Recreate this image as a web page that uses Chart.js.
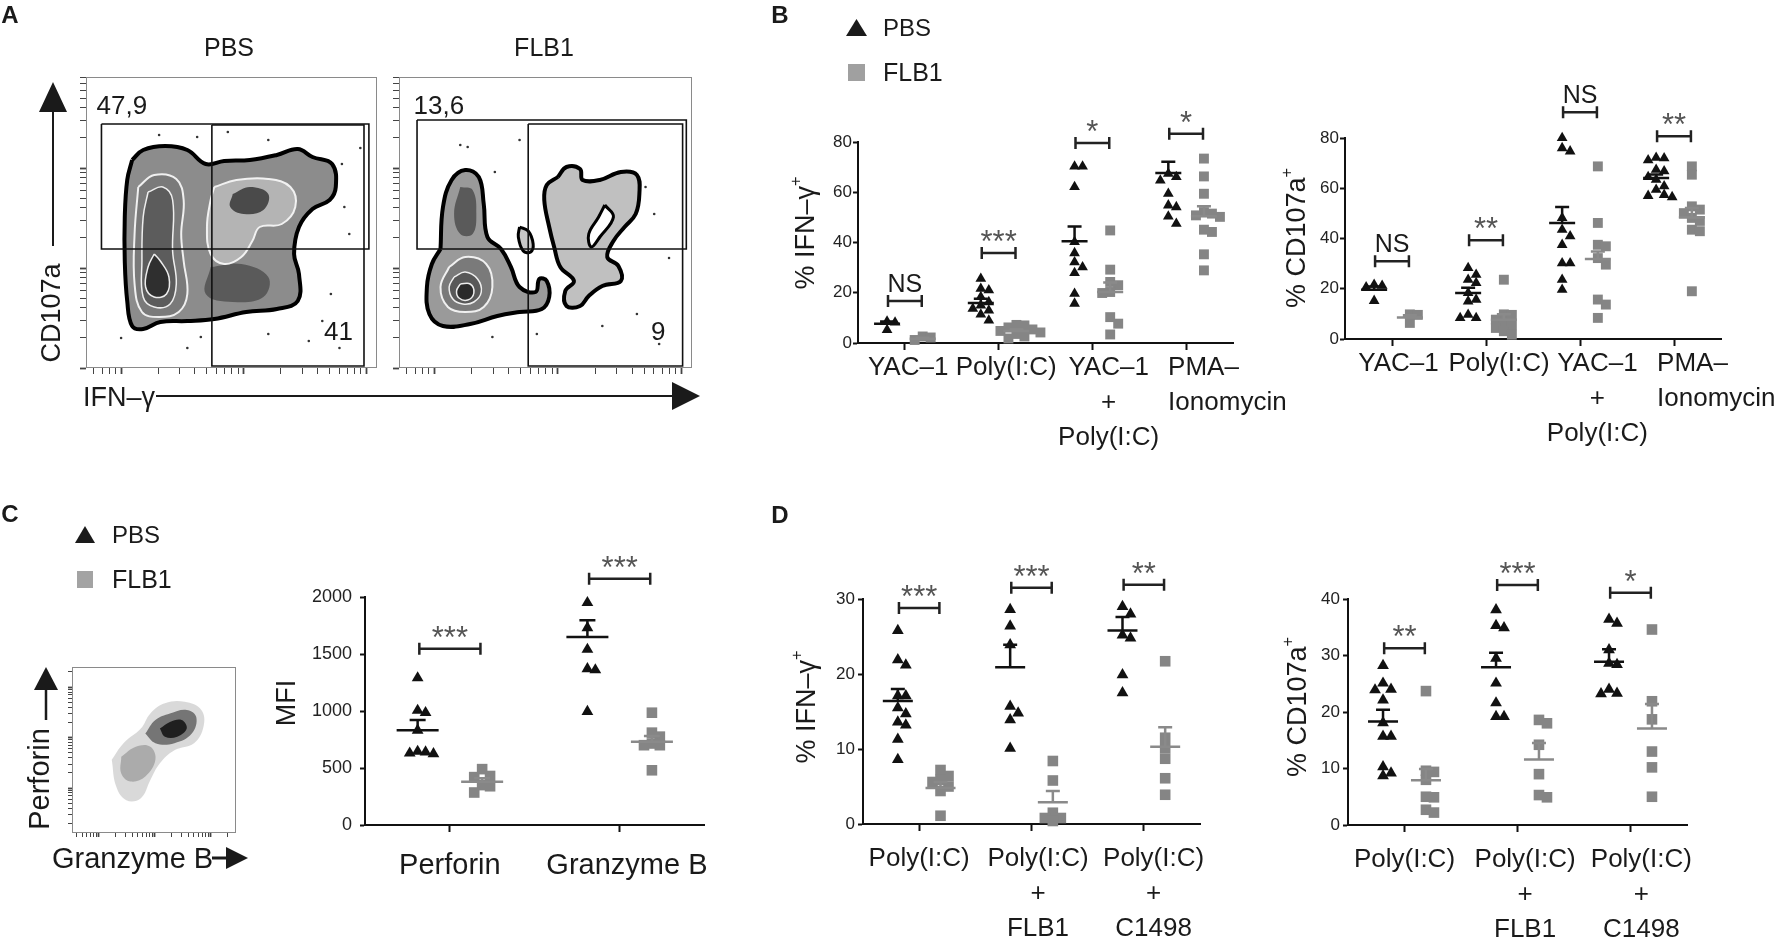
<!DOCTYPE html>
<html lang="en">
<head>
<meta charset="UTF-8">
<title>NK cell degranulation and IFN-γ</title>
<script src="https://cdn.jsdelivr.net/npm/chart.js"></script>
<style>
  html, body { margin: 0; padding: 0; background: #fff; }
  #fig { position: relative; width: 1791px; height: 943px; overflow: hidden;
         font-family: "Liberation Sans", Arial, sans-serif; color: #1a1a1a; }
  #fig canvas { position: absolute; }
  #fig svg { position: absolute; left: 0; top: 0; }
  .t { position: absolute; white-space: nowrap; line-height: 1; }
  .c { transform: translate(-50%, -50%); }
  .l { transform: translate(0, -50%); }
  .r { transform: translate(-50%, -50%) rotate(-90deg); }
  .panel { font-weight: bold; font-size: 24px; }
  sup { font-size: 0.6em; vertical-align: 0.75em; line-height: 0; }
</style>
</head>
<body>
<div id="fig">
  <canvas id="aPbs" width="315" height="310" style="left:70px;top:70px"></canvas>
  <canvas id="aFlb" width="317" height="310" style="left:383px;top:70px"></canvas>
  <canvas id="bIfn" width="560" height="400" style="left:780px;top:60px"></canvas>
  <canvas id="bCd" width="531" height="400" style="left:1260px;top:60px"></canvas>
  <canvas id="cDot" width="190" height="185" style="left:55px;top:655px"></canvas>
  <canvas id="cMfi" width="430" height="350" style="left:300px;top:540px"></canvas>
  <canvas id="dIfn" width="420" height="398" style="left:800px;top:545px"></canvas>
  <canvas id="dCd" width="420" height="398" style="left:1290px;top:545px"></canvas>

  <svg width="1791" height="943" fill="#1a1a1a" stroke="#1a1a1a">
    <!-- panel A axis arrows -->
    <line x1="53" y1="246" x2="53" y2="108" stroke-width="2"/>
    <polygon points="39,112 67,112 53,82" stroke="none"/>
    <line x1="156" y1="396" x2="676" y2="396" stroke-width="2"/>
    <polygon points="672,382 672,410 700,396" stroke="none"/>
    <!-- panel C small plot arrows -->
    <line x1="46" y1="720" x2="46" y2="686" stroke-width="2.5"/>
    <polygon points="34,690 58,690 46,667" stroke="none"/>
    <line x1="212" y1="858" x2="228" y2="858" stroke-width="3"/>
    <polygon points="226,847 226,869 248,858" stroke="none"/>
    <!-- legend markers -->
    <polygon points="846,36 867,36 856.5,19" stroke="none"/>
    <rect x="848" y="64" width="17" height="17" fill="#a0a0a0" stroke="none"/>
    <polygon points="75,543 95,543 85,526" stroke="none"/>
    <rect x="77" y="571" width="16" height="17" fill="#a3a3a3" stroke="none"/>
  </svg>

  <div class="t c panel" style="left:10px;top:15px">A</div>
  <div class="t c panel" style="left:780px;top:15px">B</div>
  <div class="t c panel" style="left:10px;top:514px">C</div>
  <div class="t c panel" style="left:780px;top:515px">D</div>

  <div class="t c" style="left:229px;top:47px;font-size:25px">PBS</div>
  <div class="t c" style="left:544px;top:47px;font-size:25px">FLB1</div>
  <div class="t r" style="left:51px;top:313px;font-size:27px">CD107a</div>
  <div class="t l" style="left:83px;top:397px;font-size:27px">IFN–γ</div>

  <div class="t l" style="left:883px;top:28px;font-size:24px">PBS</div>
  <div class="t l" style="left:883px;top:72px;font-size:25px">FLB1</div>
  <div class="t l" style="left:112px;top:535px;font-size:24px">PBS</div>
  <div class="t l" style="left:112px;top:579px;font-size:25px">FLB1</div>

  <div class="t r" style="left:39px;top:779px;font-size:29px">Perforin</div>
  <div class="t l" style="left:52px;top:858px;font-size:29px">Granzyme B</div>

  <div class="t r" style="left:805px;top:233px;font-size:27px">% IFN–γ<sup>+</sup></div>
  <div class="t r" style="left:1296px;top:238px;font-size:27px">% CD107a<sup>+</sup></div>
  <div class="t r" style="left:286px;top:703px;font-size:27px">MFI</div>
  <div class="t r" style="left:806px;top:707px;font-size:27px">% IFN–γ<sup>+</sup></div>
  <div class="t r" style="left:1297px;top:707px;font-size:27px">% CD107a<sup>+</sup></div>
</div>

<script>
// ---------- panel B: % of NK cells, one array per group ----------
const bCats = [['YAC–1'], ['Poly(I:C)'], ['YAC–1', '+', 'Poly(I:C)'], ['PMA–', 'Ionomycin']];

const bIfnPbs = [
  [8.6, 8.2, 5.2],
  [25.6, 21.6, 21.0, 18.3, 16.3, 15.0, 13.7, 13.0, 11.4, 9.0],
  [70.3, 70.3, 62.1, 40.2, 35.8, 32.2, 30.2, 27.9, 19.6, 15.7],
  [67.4, 66.1, 64.7, 59.4, 54.8, 54.1, 50.4, 47.5]
];
const bIfnFlb = [
  [2.6, 2.2, 1.2],
  [7.2, 7.0, 6.2, 5.4, 4.8, 4.2, 3.6, 2.6, 1.8],
  [44.8, 29.2, 24.3, 23.0, 20.3, 19.9, 10.3, 7.7, 3.4],
  [73.4, 66.3, 59.4, 52.1, 51.5, 50.8, 50.2, 45.1, 44.2, 35.3, 28.9]
];
const bIfnMean = [[7.7, 15.9, 40.5, 67.7], [1.7, 4.8, 20.3, 50.4]];
const bIfnSem = [[0.9, 1.7, 5.9, 4.4], [0.4, 0.6, 3.8, 4.0]];
const bIfnBracket = [16.7, 35.8, 79.6, 83.3];
const bIfnSig = ['NS', '***', '*', '*'];

const bCdPbs = [
  [21.6, 21.2, 20.6, 15.2],
  [28.3, 25.6, 23.6, 22.3, 18.3, 15.7, 15.0, 9.7, 8.4, 8.4],
  [80.0, 76.0, 74.7, 48.2, 43.5, 40.9, 37.5, 30.2, 30.2, 23.6, 19.6],
  [72.2, 72.0, 71.2, 67.4, 66.8, 64.5, 63.4, 60.8, 59.4, 57.4, 57.0, 56.5]
];
const bCdFlb = [
  [9.8, 9.6, 6.4],
  [23.6, 9.8, 9.6, 7.7, 6.4, 5.5, 4.4, 3.1, 1.7],
  [68.7, 46.2, 37.5, 36.9, 32.2, 29.6, 15.7, 13.7, 8.4],
  [68.7, 65.4, 52.8, 51.5, 50.1, 48.2, 47.0, 43.5, 42.9, 19.0]
];
const bCdMean = [[19.6, 18.3, 46.2, 64.1], [8.6, 7.7, 31.8, 48.4]];
const bCdSem = [[1.3, 2.1, 6.3, 1.4], [0.9, 2.2, 3.0, 3.7]];
const bCdBracket = [30.9, 39.3, 90.2, 80.7];
const bCdSig = ['NS', '**', 'NS', '**'];

// ---------- panel C: MFI ----------
const cCats = [['Perforin'], ['Granzyme B']];
const cMfiPbs = [[1290, 1005, 985, 830, 645, 640, 630, 625], [1950, 1730, 1540, 1370, 1360, 995]];
const cMfiFlb = [[490, 430, 420, 350, 340, 285], [985, 810, 775, 715, 700, 700, 480]];
const cMfiMean = [[832, 1650], [380, 730]];
const cMfiSem = [[88, 146], [30, 50]];
const cMfiBracket = [1547, 2161];
const cMfiSig = ['***', '***'];

// ---------- panel D ----------
const dCats = [['Poly(I:C)'], ['Poly(I:C)', '+', 'FLB1'], ['Poly(I:C)', '+', 'C1498']];
const dIfnPbs = [
  [25.8, 21.9, 21.2, 17.1, 17.1, 15.5, 14.7, 13.6, 13.2, 11.3, 8.6],
  [28.6, 26.4, 23.9, 15.7, 14.8, 13.9, 10.1],
  [29.0, 28.0, 25.2, 24.8, 19.9, 17.5]
];
const dIfnFlb = [
  [7.2, 6.4, 5.9, 5.6, 5.0, 4.4, 1.1],
  [8.4, 5.8, 1.5, 0.8, 0.8, 0.4],
  [21.7, 11.5, 10.1, 8.7, 6.1, 3.9]
];
const dIfnMean = [[16.4, 20.9, 25.8], [4.8, 2.9, 10.3]];
const dIfnSem = [[1.6, 3.0, 1.8], [0.8, 1.5, 2.6]];
const dIfnBracket = [28.8, 31.5, 31.9];
const dIfnSig = ['***', '***', '**'];

const dCdPbs = [
  [28.2, 25.1, 24.0, 23.9, 22.1, 18.1, 15.7, 15.7, 10.3, 9.2, 8.7],
  [38.1, 35.3, 34.9, 29.5, 25.1, 21.6, 19.2, 19.2],
  [36.4, 35.7, 31.0, 28.6, 28.4, 24.0, 23.3, 23.2]
];
const dCdFlb = [
  [23.7, 9.6, 9.4, 8.0, 5.0, 4.9, 2.7, 2.2],
  [18.6, 18.0, 14.2, 9.0, 5.3, 4.9],
  [34.6, 21.9, 18.7, 13.0, 10.2, 5.0]
];
const dCdMean = [[18.3, 27.9, 28.9], [7.9, 11.6, 17.1]];
const dCdSem = [[2.1, 2.6, 2.2], [2.0, 2.9, 4.3]];
const dCdBracket = [31.3, 42.5, 41.1];
const dCdSig = ['**', '***', '*'];

// ---------- panel A: contour outlines in log10 (decade) units ----------
const pbsOuter = [[1.09,2.08],[1.18,2.18],[1.36,2.22],[1.54,2.18],[1.69,2.04],[1.84,2.07],[2.05,2.08],[2.27,2.13],[2.44,2.19],[2.56,2.11],[2.72,2.04],[2.75,1.81],[2.70,1.68],[2.56,1.59],[2.45,1.41],[2.41,1.14],[2.45,0.94],[2.44,0.67],[2.27,0.59],[2.02,0.56],[1.76,0.49],[1.54,0.47],[1.32,0.46],[1.18,0.39],[1.09,0.42],[1.05,0.67],[1.03,1.07],[1.03,1.51],[1.05,1.88]];
const pbsLobe1 = [[1.14,1.81],[1.27,1.93],[1.45,1.89],[1.51,1.68],[1.49,1.34],[1.51,1.07],[1.54,0.74],[1.47,0.56],[1.31,0.51],[1.17,0.56],[1.11,0.84],[1.11,1.34]];
const pbsLobe2 = [[1.22,1.76],[1.34,1.81],[1.42,1.68],[1.42,1.17],[1.45,0.84],[1.40,0.64],[1.27,0.61],[1.18,0.71],[1.17,1.07],[1.18,1.51]];
const pbsLobe3 = [[1.27,1.14],[1.32,1.07],[1.39,0.91],[1.37,0.74],[1.27,0.71],[1.20,0.81],[1.22,1.01]];
const pbsBlob = [[1.76,1.81],[1.94,1.88],[2.20,1.89],[2.38,1.81],[2.42,1.61],[2.31,1.44],[2.13,1.41],[2.07,1.27],[1.98,1.11],[1.84,1.04],[1.73,1.14],[1.70,1.41],[1.73,1.68]];
const pbsBlobCore = [[1.91,1.74],[2.05,1.81],[2.20,1.74],[2.16,1.58],[2.00,1.54],[1.89,1.61]];
const pbsLowCore = [[1.73,1.01],[1.98,1.04],[2.20,0.91],[2.16,0.71],[1.91,0.66],[1.69,0.74]];
const pbsDots = [[1.31,2.33],[1.62,2.31],[2.20,2.28],[2.80,2.04],[2.82,1.61],[2.64,0.47],[2.53,0.27],[2.78,0.20],[2.20,0.34],[1.65,0.31],[2.71,0.74],[2.86,1.34],[1.87,2.36],[1.54,0.20],[2.95,2.20],[1.00,0.30]];
const pbsGates = [[0.84, 2.44, 3.02, 1.19], [1.74, 2.43, 2.98, 0.02]];
const pbsStats = ['47,9', '41'];

const flbLobe = [[1.05,1.19],[1.07,1.61],[1.14,1.88],[1.25,1.98],[1.36,1.91],[1.40,1.64],[1.43,1.31],[1.54,1.19],[1.62,1.01],[1.69,0.81],[1.82,0.76],[1.85,0.89],[1.91,0.87],[1.93,0.71],[1.87,0.59],[1.69,0.56],[1.51,0.52],[1.29,0.44],[1.07,0.42],[0.96,0.54],[0.94,0.81],[0.98,1.04]];
const flbLobeTop = [[1.21,1.81],[1.31,1.78],[1.34,1.54],[1.31,1.34],[1.21,1.34],[1.16,1.54]];
const flbRing1 = [[1.12,1.01],[1.25,1.11],[1.42,1.04],[1.47,0.81],[1.40,0.61],[1.25,0.56],[1.11,0.61],[1.05,0.81]];
const flbRing2 = [[1.16,0.91],[1.25,0.96],[1.35,0.89],[1.38,0.76],[1.32,0.66],[1.23,0.64],[1.15,0.69],[1.12,0.81]];
const flbRing3 = [[1.21,0.84],[1.29,0.84],[1.32,0.75],[1.27,0.68],[1.20,0.70],[1.18,0.77]];
const flbBlob = [[2.00,1.91],[2.07,2.01],[2.18,1.99],[2.20,1.88],[2.34,1.88],[2.51,1.96],[2.64,1.93],[2.66,1.74],[2.63,1.54],[2.54,1.41],[2.45,1.27],[2.40,1.11],[2.49,1.02],[2.51,0.87],[2.36,0.82],[2.25,0.72],[2.18,0.62],[2.07,0.62],[2.06,0.77],[2.13,0.87],[2.02,1.01],[1.97,1.21],[1.93,1.41],[1.89,1.68],[1.91,1.83]];
const flbHole = [[2.38,1.63],[2.45,1.51],[2.34,1.31],[2.27,1.21],[2.25,1.34],[2.33,1.51]];
const flbIsland = [[1.69,1.41],[1.76,1.37],[1.80,1.24],[1.78,1.16],[1.72,1.17],[1.68,1.31]];
const flbDots = [[1.21,2.23],[1.27,2.21],[1.69,2.28],[2.71,1.81],[2.78,1.54],[2.36,0.42],[2.64,0.54],[1.83,0.34],[1.47,0.31],[2.82,0.24],[1.49,1.96],[2.90,1.10]];
const flbGates = [[0.86, 2.48, 3.04, 1.19], [1.76, 2.44, 3.01, 0.02]];
const flbStats = ['13,6', '9'];

// ---------- panel C: perforin / granzyme B cloud outlines ----------
const cloudOuter = [[1.23,1.56],[1.44,1.89],[1.75,2.18],[1.92,2.48],[2.18,2.68],[2.53,2.71],[2.83,2.55],[2.87,2.22],[2.70,1.89],[2.35,1.75],[2.09,1.49],[1.92,1.16],[1.75,0.80],[1.49,0.76],[1.31,1.03]];
const cloudGray = [[1.40,1.62],[1.66,1.82],[1.92,1.82],[2.01,1.56],[1.83,1.23],[1.57,1.13],[1.40,1.29]];
const cloudDark = [[1.83,2.08],[2.01,2.35],[2.27,2.48],[2.57,2.55],[2.74,2.41],[2.66,2.08],[2.35,1.89],[2.01,1.89]];
const cloudCore = [[2.09,2.18],[2.27,2.31],[2.48,2.35],[2.57,2.18],[2.40,2.02],[2.18,2.02]];

// ---------------------------------------------------------------
const FONT = '"Liberation Sans", Arial, sans-serif';
const INK = '#1a1a1a';
const GREY = '#858585';
const OFF = 0.19;              // PBS sits left, FLB1 right of each category
const NONE = 'rgba(0,0,0,0)';

Chart.defaults.font.family = FONT;
Chart.defaults.color = INK;

const measureCtx = document.createElement('canvas').getContext('2d');

function padWidth(px, font) {
  measureCtx.font = font;
  let ch = '\u200A';
  let unit = measureCtx.measureText(ch).width;
  if (unit < 0.5) { ch = ' '; unit = measureCtx.measureText(ch).width; }
  return ch.repeat(Math.max(0, Math.round(px / unit)));
}

// shift a centred multi-line label sideways by padding it with thin spaces
function shiftLines(lines, sh, size) {
  const f = size + 'px ' + FONT;
  measureCtx.font = f;
  return lines.map(t => {
    const c = measureCtx.measureText(t).width;
    let lead = 0, trail = 0;
    if (sh.left !== undefined) {
      const v = c + 2 * sh.left;
      if (v >= 0) lead = v; else trail = -v;
    } else if (sh.c >= 0) lead = 2 * sh.c;
    else trail = -2 * sh.c;
    return padWidth(lead, f) + t + padWidth(trail, f);
  });
}

// spread overlapping dots sideways (simple beeswarm)
function swarm(vals, pxU, pxC) {
  const order = vals.map((v, i) => i).sort((a, b) => vals[b] - vals[a]);
  const placed = [];
  const out = vals.map(() => 0);
  order.forEach(i => {
    const py = vals[i] * pxU;
    for (const k of [0, 1, -1, 2, -2, 3, -3]) {
      const px = k * 8;
      if (placed.every(p => Math.abs(p.py - py) >= 8 || Math.abs(p.px - px) >= 8)) {
        placed.push({ px, py });
        out[i] = px / pxC;
        return;
      }
    }
  });
  return out;
}

function groupPoints(groups, side, pxU, pxC) {
  const pts = [];
  groups.forEach((vals, i) => {
    const dx = swarm(vals, pxU, pxC);
    vals.forEach((v, j) => pts.push({ x: i + side * OFF + dx[j], y: v }));
  });
  return pts;
}

function extrasPlugin(d) {
  return {
    id: 'extras',
    afterDatasetsDraw(chart) {
      const { ctx, scales: { x, y } } = chart;
      ctx.save();
      // mean and SEM
      [0, 1].forEach(s => {
        d.means[s].forEach((m, i) => {
          const cx = x.getPixelForValue(i + (s ? OFF : -OFF));
          const my = y.getPixelForValue(m);
          const sy = y.getPixelForValue(m + d.sems[s][i]);
          ctx.strokeStyle = s ? '#8a8a8a' : '#111';
          ctx.lineWidth = 2.5;
          ctx.beginPath();
          ctx.moveTo(cx - d.half, my); ctx.lineTo(cx + d.half, my);
          ctx.moveTo(cx, my); ctx.lineTo(cx, sy);
          ctx.moveTo(cx - d.cap, sy); ctx.lineTo(cx + d.cap, sy);
          ctx.stroke();
        });
      });
      // significance brackets
      ctx.textAlign = 'center';
      ctx.textBaseline = 'alphabetic';
      d.brackets.forEach((b, i) => {
        const x1 = x.getPixelForValue(i - OFF + 0.01);
        const x2 = x.getPixelForValue(i + OFF - 0.01);
        const by = y.getPixelForValue(b);
        ctx.strokeStyle = '#222';
        ctx.lineWidth = 2.5;
        ctx.beginPath();
        ctx.moveTo(x1, by); ctx.lineTo(x2, by);
        ctx.moveTo(x1, by - 6); ctx.lineTo(x1, by + 6);
        ctx.moveTo(x2, by - 6); ctx.lineTo(x2, by + 6);
        ctx.stroke();
        const txt = d.sig[i];
        const star = txt[0] === '*';
        ctx.font = (star ? 31 : 25) + 'px ' + FONT;
        ctx.fillStyle = star ? '#555' : INK;
        ctx.fillText(txt, (x1 + x2) / 2, by - (star ? 1 : 9));
      });
      ctx.restore();
    }
  };
}

function dotChart(id, d) {
  const cv = document.getElementById(id);
  const areaW = cv.width - d.yWidth - d.padRight;
  const areaH = cv.height - d.padTop - d.xHeight;
  const n = d.cats.length;
  const pxC = areaW / n, pxU = areaH / d.yMax;
  const labels = d.cats.map((lines, i) => shiftLines(lines, d.shift[i], d.catSize));
  return new Chart(cv, {
    type: 'scatter',
    data: {
      datasets: [
        { label: 'PBS', data: groupPoints(d.pbs, -1, pxU, pxC), pointStyle: 'triangle',
          pointRadius: d.triR, backgroundColor: '#111', borderWidth: 0, clip: false },
        { label: 'FLB1', data: groupPoints(d.flb, 1, pxU, pxC), pointStyle: 'rect',
          pointRadius: d.rectR, backgroundColor: GREY, borderWidth: 0, clip: false }
      ]
    },
    options: {
      responsive: false, animation: false, events: [],
      layout: { padding: { left: 0, top: d.padTop, right: d.padRight, bottom: 0 } },
      plugins: { legend: { display: false }, tooltip: { enabled: false } },
      scales: {
        x: {
          type: 'linear', min: -0.5, max: n - 0.5,
          afterBuildTicks: ax => { ax.ticks = d.cats.map((c, i) => ({ value: i })); },
          afterFit: ax => { ax.height = d.xHeight; },
          ticks: {
            callback: (v, i) => labels[i], autoSkip: false, maxRotation: 0, minRotation: 0,
            padding: d.catPad, color: INK,
            font: { family: FONT, size: d.catSize, lineHeight: d.catLine }
          },
          grid: { drawOnChartArea: false, tickLength: 7, tickWidth: 2, tickColor: '#111' },
          border: { display: true, color: '#111', width: 2 }
        },
        y: {
          min: 0, max: d.yMax,
          afterFit: ax => { ax.width = d.yWidth; },
          ticks: { stepSize: d.yStep, padding: d.tickPad, color: '#222',
                   callback: v => String(v), font: { family: FONT, size: d.tickSize } },
          grid: { drawOnChartArea: false, tickLength: 5, tickWidth: 2, tickColor: '#111' },
          border: { display: true, color: '#111', width: 2 }
        }
      }
    },
    plugins: [extrasPlugin(d)]
  });
}

// ---------- flow-cytometry style plots ----------
function logTicks(min, max) {
  const t = [];
  for (let n = -1; n <= 4; n++) {
    for (let k = 1; k <= 9; k++) {
      const v = n + Math.log10(k);
      if (v >= min - 1e-9 && v <= max + 1e-9) t.push({ value: v, major: k === 1 });
    }
  }
  return t;
}
const xy = pts => pts.map(([x, y]) => ({ x, y }));
const closed = pts => xy(pts.concat([pts[0]]));
const rect = ([x1, y1, x2, y2]) => xy([[x1, y1], [x2, y1], [x2, y2], [x1, y2], [x1, y1]]);

const framePlugin = {
  id: 'frame',
  beforeDatasetsDraw(chart) {
    const { ctx, chartArea: a } = chart;
    ctx.save();
    ctx.strokeStyle = '#8a8a8a';
    ctx.lineWidth = 1;
    ctx.strokeRect(a.left + 0.5, a.top + 0.5, a.width - 1, a.height - 1);
    ctx.restore();
  }
};

function statsPlugin(stats, pos) {
  return {
    id: 'stats',
    afterDatasetsDraw(chart) {
      const { ctx, scales: { x, y } } = chart;
      ctx.save();
      ctx.font = '26px ' + FONT;
      ctx.fillStyle = INK;
      ctx.textBaseline = 'middle';
      ctx.textAlign = 'left';
      ctx.fillText(stats[0], x.getPixelForValue(pos[0][0]), y.getPixelForValue(pos[0][1]));
      ctx.textAlign = 'right';
      ctx.fillText(stats[1], x.getPixelForValue(pos[1][0]), y.getPixelForValue(pos[1][1]));
      ctx.restore();
    }
  };
}

function densityChart(id, o) {
  const datasets = [];
  if (o.dots) datasets.push({ data: xy(o.dots), showLine: false, pointRadius: 1.3,
    pointBackgroundColor: '#333', pointBorderColor: NONE, pointBorderWidth: 0 });
  (o.gates || []).forEach(g => datasets.push({ data: rect(g), borderColor: '#111',
    borderWidth: 1.6, pointRadius: 0, tension: 0, fill: false }));
  o.layers.forEach(l => datasets.push({ data: closed(l.pts), fill: 'shape', backgroundColor: l.fill,
    borderColor: l.line || NONE, borderWidth: l.w || 1, pointRadius: 0, tension: 0.4 }));
  const axis = (min, max, side, size) => ({
    type: 'linear', min, max, position: side,
    afterBuildTicks: ax => { ax.ticks = logTicks(min, max); },
    afterFit: ax => { if (side === 'left') ax.width = size; else ax.height = size; },
    ticks: { display: false },
    grid: { drawOnChartArea: false, tickLength: o.tickLen, tickColor: '#444',
            tickWidth: c => (c.tick && c.tick.major ? 1.8 : 1) },
    border: { display: false }
  });
  return new Chart(document.getElementById(id), {
    type: 'line',
    data: { datasets },
    options: {
      responsive: false, animation: false, events: [],
      layout: { padding: o.pad },
      plugins: { legend: { display: false }, tooltip: { enabled: false } },
      scales: { x: axis(o.x[0], o.x[1], 'bottom', o.xh), y: axis(o.y[0], o.y[1], 'left', o.yw) }
    },
    plugins: o.stats ? [framePlugin, statsPlugin(o.stats, o.statPos)] : [framePlugin]
  });
}

const ringLine = 'rgba(245,245,245,0.95)';

densityChart('aPbs', {
  x: [0.714, 3.086], y: [0, 2.91], xh: 12, yw: 16, tickLen: 6,
  pad: { left: 0, top: 7, right: 8, bottom: 0 },
  dots: pbsDots, gates: pbsGates, stats: pbsStats, statPos: [[0.80, 2.61], [2.89, 0.355]],
  layers: [
    { pts: pbsLobe3, fill: '#2f2f2f', line: ringLine, w: 1.5 },
    { pts: pbsLobe2, fill: '#5c5c5c', line: ringLine, w: 1.5 },
    { pts: pbsLobe1, fill: '#7a7a7a', line: ringLine, w: 2 },
    { pts: pbsBlobCore, fill: '#4a4a4a' },
    { pts: pbsBlob, fill: '#b4b4b4', line: ringLine, w: 2 },
    { pts: pbsLowCore, fill: '#5a5a5a' },
    { pts: pbsOuter, fill: '#8c8c8c', line: '#000', w: 4 }
  ]
});

densityChart('aFlb', {
  x: [0.714, 3.086], y: [0, 2.91], xh: 12, yw: 16, tickLen: 6,
  pad: { left: 0, top: 7, right: 8, bottom: 0 },
  dots: flbDots, gates: flbGates, stats: flbStats, statPos: [[0.832, 2.61], [2.872, 0.355]],
  layers: [
    { pts: flbHole, fill: '#ffffff', line: '#000', w: 3 },
    { pts: flbIsland, fill: '#c8c8c8', line: '#000', w: 3 },
    { pts: flbRing3, fill: '#2a2a2a', line: ringLine, w: 1.5 },
    { pts: flbRing2, fill: '#585858', line: ringLine, w: 1.5 },
    { pts: flbRing1, fill: '#7a7a7a', line: ringLine, w: 2 },
    { pts: flbLobeTop, fill: '#5a5a5a' },
    { pts: flbLobe, fill: '#9a9a9a', line: '#000', w: 4 },
    { pts: flbBlob, fill: '#c0c0c0', line: '#000', w: 4 }
  ]
});

densityChart('cDot', {
  x: [0.52, 3.45], y: [0.11, 3.40], xh: 7, yw: 17, tickLen: 4,
  pad: { left: 0, top: 12, right: 9, bottom: 0 },
  layers: [
    { pts: cloudCore, fill: 'rgba(10,10,10,0.8)' },
    { pts: cloudDark, fill: 'rgba(50,50,50,0.6)' },
    { pts: cloudGray, fill: 'rgba(140,140,140,0.6)' },
    { pts: cloudOuter, fill: 'rgba(185,185,185,0.55)' }
  ]
});

// ---------- dot plots ----------
dotChart('bIfn', {
  cats: bCats, pbs: bIfnPbs, flb: bIfnFlb, means: bIfnMean, sems: bIfnSem,
  brackets: bIfnBracket, sig: bIfnSig, yMax: 80, yStep: 20,
  yWidth: 78, padTop: 82, padRight: 107, xHeight: 117,
  tickSize: 17, tickPad: 1, catSize: 26, catLine: 1.35, catPad: 0,
  shift: [{ c: 3 }, { c: 8 }, { c: 16 }, { left: -18 }],
  triR: 6.2, rectR: 7, half: 13, cap: 7
});

dotChart('bCd', {
  cats: bCats, pbs: bCdPbs, flb: bCdFlb, means: bCdMean, sems: bCdSem,
  brackets: bCdBracket, sig: bCdSig, yMax: 80, yStep: 20,
  yWidth: 85, padTop: 78, padRight: 70, xHeight: 121,
  tickSize: 17, tickPad: 1, catSize: 26, catLine: 1.35, catPad: 0,
  shift: [{ c: 7 }, { c: 13 }, { c: 17 }, { left: -17 }],
  triR: 6.2, rectR: 7, half: 13, cap: 7
});

dotChart('cMfi', {
  cats: cCats, pbs: cMfiPbs, flb: cMfiFlb, means: cMfiMean, sems: cMfiSem,
  brackets: cMfiBracket, sig: cMfiSig, yMax: 2000, yStep: 500,
  yWidth: 65, padTop: 57, padRight: 22, xHeight: 65,
  tickSize: 18, tickPad: 8, catSize: 29, catLine: 1.2, catPad: 17,
  shift: [{ c: 0 }, { c: 7 }],
  triR: 6.8, rectR: 7.5, half: 21, cap: 8
});

dotChart('dIfn', {
  cats: dCats, pbs: dIfnPbs, flb: dIfnFlb, means: dIfnMean, sems: dIfnSem,
  brackets: dIfnBracket, sig: dIfnSig, yMax: 30, yStep: 10,
  yWidth: 63, padTop: 54, padRight: 20, xHeight: 119,
  tickSize: 17, tickPad: 3, catSize: 26, catLine: 1.35, catPad: 10,
  shift: [{ c: 0 }, { c: 7 }, { c: 10 }],
  triR: 6.8, rectR: 7.5, half: 15, cap: 7
});

dotChart('dCd', {
  cats: dCats, pbs: dCdPbs, flb: dCdFlb, means: dCdMean, sems: dCdSem,
  brackets: dCdBracket, sig: dCdSig, yMax: 40, yStep: 10,
  yWidth: 58, padTop: 54, padRight: 23, xHeight: 118,
  tickSize: 17, tickPad: 3, catSize: 26, catLine: 1.35, catPad: 10,
  shift: [{ c: 0 }, { c: 8 }, { c: 11 }],
  triR: 6.8, rectR: 7.5, half: 15, cap: 7
});
</script>
</body>
</html>
